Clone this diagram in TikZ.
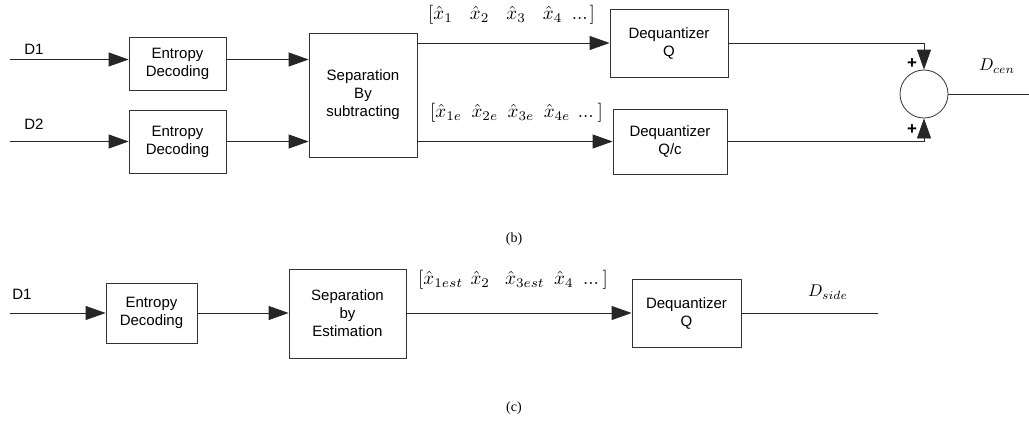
\documentclass[tikz,border=0pt]{standalone}
\usepackage{fontspec}
\setmainfont{Liberation Sans}
\newfontfamily\capfont{Liberation Serif}
\usetikzlibrary{arrows.meta,calc}
\newcommand{\mylblmath}[2][1.9]{\scalebox{#1}{$#2$}}
\newcommand{\gp}[1]{\hspace{#1pt}}
\begin{document}
\begin{tikzpicture}[x=1pt,y=-1pt,
  blk/.style={draw=black!80,line width=0.8pt,align=center,inner sep=0pt,
    font=\fontsize{15}{18}\selectfont},
  conn/.style={draw=black!85,line width=0.8pt},
  arr/.style={conn,-{Triangle[length=20pt,width=14pt]}},
  lbl/.style={inner sep=0pt,font=\fontsize{15}{18}\selectfont},
  mlbl/.style={inner sep=0pt},
  caption/.style={inner sep=0pt,font=\capfont\fontsize{14}{16}\selectfont}]
\useasboundingbox (0,0) rectangle (1029,426);
% ---------- (b) ----------
\node[blk,minimum width=97pt,minimum height=53pt] (e1) at (177.5,63.5) {Entropy\\Decoding};
\node[blk,minimum width=97pt,minimum height=63pt] (e2) at (177.5,141.5) {Entropy\\Decoding};
\node[blk,minimum width=108pt,minimum height=124pt] (sep) at (363,95) {Separation\\By\\subtracting};
\node[blk,minimum width=118pt,minimum height=68pt] (dq1) at (669,43) {Dequantizer\\Q};
\node[blk,minimum width=114pt,minimum height=65pt] (dq2) at (670,141.5) {Dequantizer\\Q/c};
\node[draw=black!80,line width=0.8pt,circle,minimum size=48pt,inner sep=0pt] (sum) at (924,94) {};
\coordinate (in1) at (10,59.5);
\coordinate (in2) at (10,141.5);
\coordinate (outb) at (1029,94);
\node[lbl] (d1) at (34,49) {D1};
\node[lbl] (d2) at (34,124) {D2};
\draw[arr] (in1) -- (in1 -| e1.west);
\draw[arr] (in2) -- (in2 -| e2.west);
\draw[arr] (e1.east |- in1) -- (in1 -| sep.west);
\draw[arr] (e2.east |- in2) -- (in2 -| sep.west);
\draw[arr] (sep.east |- dq1.west) -- (dq1.west);
\draw[arr] (sep.east |- dq2.west) -- (dq2.west);
\draw[arr] (dq1.east) -| (sum.north);
\draw[arr] (dq2.east) -| (sum.south);
\draw[conn] (sum.east) -- (outb);
\node[mlbl,anchor=west] (xs1) at (428,15) {\mylblmath{[\hat{x}_1\gp{9}\hat{x}_2\gp{9}\hat{x}_3\gp{9}\hat{x}_4\gp{5}...\gp{1}]}};
\node[mlbl,anchor=west] (xs2) at (430,113) {\mylblmath{[\hat{x}_{1e}\gp{5}\hat{x}_{2e}\gp{5}\hat{x}_{3e}\gp{5}\hat{x}_{4e}\gp{4}...\gp{2}]}};
\node[inner sep=0pt,font=\bfseries\fontsize{17}{18}\selectfont] (p1) at (912,64) {+};
\node[inner sep=0pt,font=\bfseries\fontsize{17}{18}\selectfont] (p2) at (912,130) {+};
\node[mlbl] (dcen) at (997,66) {\mylblmath[1.7]{D_{cen}}};
\node[caption] (cb) at (514,239) {(b)};
% ---------- (c) ----------
\node[blk,minimum width=91pt,minimum height=60pt] (e3) at (151.5,313) {Entropy\\Decoding};
\node[blk,minimum width=117pt,minimum height=89pt] (sep2) at (347.5,313.5) {Separation\\by\\Estimation};
\node[blk,minimum width=109pt,minimum height=68pt] (dq3) at (686.5,313) {Dequantizer\\Q};
\coordinate (in3) at (10,313);
\coordinate (outc) at (878,313);
\node[lbl] (d3) at (22,294) {D1};
\draw[arr] (in3) -- (e3.west);
\draw[arr] (e3.east) -- (e3.east -| sep2.west);
\draw[arr] (sep2.east |- dq3.west) -- (dq3.west);
\draw[conn] (dq3.east) -- (outc);
\node[mlbl,anchor=west] (xs3) at (418,280) {\mylblmath{[\hat{x}_{1est}\gp{4}\hat{x}_2\gp{8}\hat{x}_{3est}\gp{5}\hat{x}_4\gp{5}...\gp{2}]}};
\node[mlbl] (dside) at (828,292) {\mylblmath[1.7]{D_{side}}};
\node[caption] (cc) at (514,408) {(c)};
\end{tikzpicture}
\end{document}
